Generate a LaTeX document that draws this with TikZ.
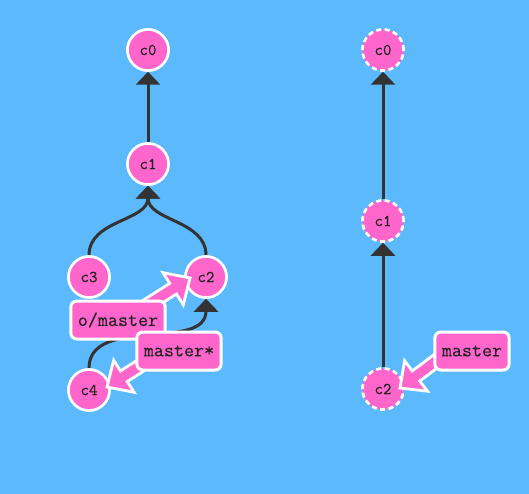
\documentclass[tikz,border=0pt]{standalone}
\usepackage{fontspec}
\usetikzlibrary{arrows.meta,calc}
\newfontfamily\gitmono[FakeBold=0.5]{Latin Modern Mono}
\newfontfamily\gitlbl[FakeBold=0.25]{Latin Modern Mono}
\definecolor{bgblue}{HTML}{5CBAFC}
\definecolor{commitpink}{HTML}{FF66CC}
\definecolor{edgegray}{HTML}{333333}
\definecolor{txtdark}{HTML}{222222}
\tikzset{
  commit/.style={circle, minimum size=41pt, inner sep=0pt, fill=commitpink, draw=white, line width=2.5pt, text=txtdark, font=\gitmono\fontsize{16.5}{16.5}\selectfont},
  ghostcommit/.style={commit, dash pattern=on 5pt off 3.5pt},
  edge/.style={draw=edgegray, line width=3pt, -{Triangle[width=24pt,length=13pt]}},
  branchlbl/.style={rectangle, rounded corners=6pt, fill=commitpink, draw=white, line width=3pt, text=txtdark, minimum height=38pt, inner xsep=7pt, font=\gitlbl\fontsize{19.5}{19.5}\selectfont},
  fatarrowstyle/.style={fill=commitpink, draw=white, line width=2.8pt, line join=miter}
}
\newcommand\pinkarrow[2]{%
  \path let \p1=($(#2)-(#1)$) in \pgfextra{%
    \pgfmathsetmacro\paang{atan2(\y1,\x1)}%
    \pgfmathsetmacro\palen{veclen(\x1,\y1)}%
    \global\let\paangG\paang\global\let\palenG\palen};
  \begin{scope}[shift={(#2)},rotate=\paangG]
    \filldraw[fatarrowstyle] (0,0) -- (-20,19) -- (-20,6.3) -- (-\palenG,6.3) -- (-\palenG,-6.3) -- (-20,-6.3) -- (-20,-19) -- cycle;
  \end{scope}%
}
\begin{document}
\begin{tikzpicture}[x=1pt,y=1pt]
\useasboundingbox (0,0) rectangle (529,-494);
\fill[bgblue] (0,0) rectangle (529,-494);
% commit positions
\path (148,-50) coordinate (p0) (148,-164) coordinate (p1) (89,-277) coordinate (p3) (206,-277) coordinate (p2) (89,-390) coordinate (p4);
\path (383,-50) coordinate (q0) (383,-221) coordinate (q1) (383,-389) coordinate (q2);
\node[commit] (c0) at (p0) {c0};
\node[commit] (c1) at (p1) {c1};
\node[commit] (c3) at (p3) {c3};
\node[commit] (c2) at (p2) {c2};
\node[commit] (c4) at (p4) {c4};
\node[ghostcommit] (r0) at (q0) {c0};
\node[ghostcommit] (r1) at (q1) {c1};
\node[ghostcommit] (r2) at (q2) {c2};
% edges
\draw[edge] (c1) -- (c0);
\draw[edge] (c3.north) to[out=90,in=-90] (c1.south);
\draw[edge] (c2.north) to[out=90,in=-90] (c1.south);
\draw[edge] (c4.north) to[out=90,in=-90] (c2.south);
\draw[edge] (r1) -- (r0);
\draw[edge] (r2) -- (r1);
% redraw commits over edges
\node[commit] at (p0) {c0};
\node[commit] at (p1) {c1};
\node[commit] at (p3) {c3};
\node[commit] at (p2) {c2};
\node[commit] at (p4) {c4};
\node[ghostcommit] at (q0) {c0};
\node[ghostcommit] at (q1) {c1};
\node[ghostcommit] at (q2) {c2};
% branch label arrows
\coordinate (tipA) at (190,-278);
\coordinate (tailA) at (130,-316);
\coordinate (tipB) at (107,-387);
\coordinate (tailB) at (165,-350);
\coordinate (tipC) at (400,-388);
\coordinate (tailC) at (460,-343);
\pinkarrow{tailA}{tipA}
\pinkarrow{tailB}{tipB}
\pinkarrow{tailC}{tipC}
% branch labels
\node[branchlbl] (omaster) at (118,-320) {o/master};
\node[branchlbl] (mstar) at (179,-351) {master*};
\node[branchlbl] (rmaster) at (472,-351) {master};
\end{tikzpicture}
\end{document}
